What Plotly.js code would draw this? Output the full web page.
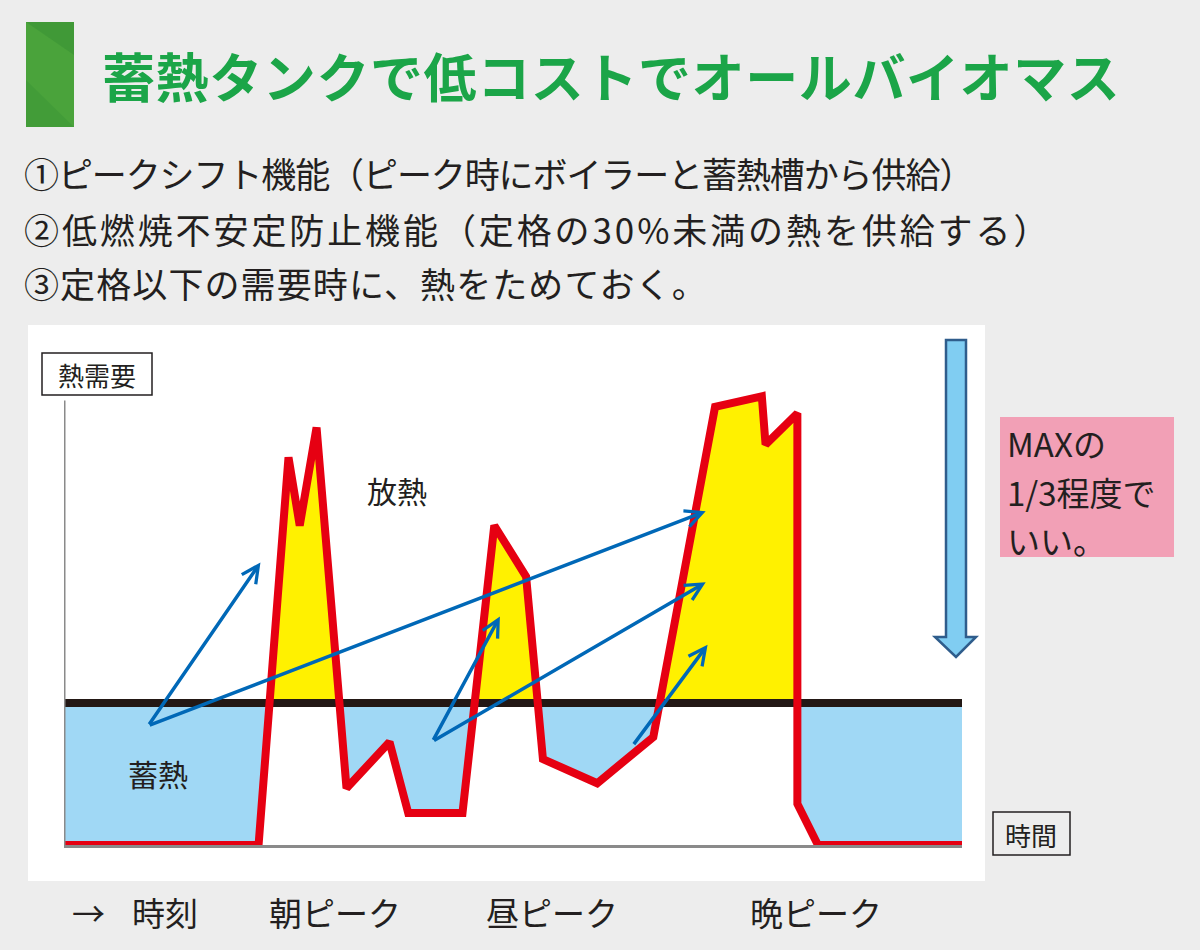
<!DOCTYPE html>
<html><head><meta charset="utf-8">
<script src="https://cdn.plot.ly/plotly-3.0.1.min.js"></script>
<style>html,body{margin:0;padding:0;background:#ededed;} #chart{width:1200px;height:950px;}</style>
</head><body><div id="chart"></div>
<script>
// ---------- data ----------
const titleText = '蓄熱タンクで低コストでオールバイオマス';
const noteLines = [
  '①ピークシフト機能（ピーク時にボイラーと蓄熱槽から供給）',
  '②低燃焼不安定防止機能（定格の30%未満の熱を供給する）',
  '③定格以下の需要時に、熱をためておく。'
];
// time of day (hours) and heat demand (rated output = 100)
const hours  = [0, 5.2, 6.0, 6.3, 6.75, 7.55, 8.7, 9.2, 10.65, 11.5, 12.35, 12.8, 14.25, 15.75, 17.4, 18.65, 18.75, 19.6, 19.6, 20.15, 24];
const demand = [0, 0,   273, 225, 294,  40,   72.5, 22.5, 22.5, 225,  189,   60.5, 43.5,  76,    308.5, 316,  282,   304,  29,   0,     0];
const rated = 100;
// storage -> release arrows (tail / head, in hours & demand units)
const arrowTailH = [2.25, 2.25, 9.85, 9.85, 15.2];
const arrowTailV = [84, 84, 73, 73, 70];
const arrowHeadH = [5.25, 17.15, 11.65, 17.15, 17.2];
const arrowHeadV = [199, 235, 161, 185, 141];
const areaLabels = ['放熱', '蓄熱'];
const areaLabelH = [8.9, 2.5];
const areaLabelV = [250, 51];
const timeLabels = ['→', '時刻', '朝ピーク', '昼ピーク', '晩ピーク'];
const timeLabelH = [0.65, 2.7, 7.25, 13.05, 20.1];
const yAxisLabel = '熱需要';
const xAxisLabel = '時間';
const noteBoxLines = ['MAXの', '1/3程度で', 'いい。'];

// ---------- layout helpers (page pixels -> paper) ----------
const W = 1200, H = 950;
const X = px => px / W;
const Y = py => 1 - py / H;
const FONT = 'Noto Sans CJK JP, sans-serif';
const DARK = '#231f20';
const spaced = (t, px) => `<span style="letter-spacing:${px}px">${t}</span>`;

// fills: split at crossings of the rated line
const fx = [], lo = [], hi = [];
for (let i = 0; i < hours.length; i++) {
  if (i > 0) {
    const d0 = demand[i - 1] - rated, d1 = demand[i] - rated;
    if (d0 * d1 < 0) {
      const t = d0 / (d0 - d1);
      fx.push(hours[i - 1] + t * (hours[i] - hours[i - 1]));
      lo.push(rated); hi.push(rated);
    }
  }
  fx.push(hours[i]);
  lo.push(Math.min(demand[i], rated));
  hi.push(Math.max(demand[i], rated));
}
const ratedArr = fx.map(() => rated);

const traces = [
  {x: fx, y: lo, mode: 'lines', line: {width: 0, color: 'rgba(0,0,0,0)'}, hoverinfo: 'skip', showlegend: false},
  {x: fx, y: ratedArr, mode: 'lines', fill: 'tonexty', fillcolor: '#a0d8f5', line: {width: 0, color: 'rgba(0,0,0,0)'}, hoverinfo: 'skip', showlegend: false},
  {x: fx, y: hi, mode: 'lines', fill: 'tonexty', fillcolor: '#fff100', line: {width: 0, color: 'rgba(0,0,0,0)'}, hoverinfo: 'skip', showlegend: false},
  {x: [hours[0], hours[hours.length - 1]], y: [rated, rated], mode: 'lines', line: {color: '#231815', width: 8}, hoverinfo: 'skip', showlegend: false},
  {x: hours, y: demand, mode: 'lines', line: {color: '#e60012', width: 8}, hoverinfo: 'skip', showlegend: false}
];

const shapes = [
  // white panel
  {type: 'rect', xref: 'paper', yref: 'paper', x0: X(28), x1: X(985), y0: Y(881), y1: Y(325), fillcolor: '#ffffff', line: {width: 0}, layer: 'below'},
  // green title bar
  {type: 'rect', xref: 'paper', yref: 'paper', x0: X(26), x1: X(74), y0: Y(127), y1: Y(22), fillcolor: '#4aa33b', line: {width: 0}, layer: 'below'},
  {type: 'path', xref: 'paper', yref: 'paper', path: `M ${X(26)},${Y(22)} L ${X(74)},${Y(22)} L ${X(74)},${Y(55)} Z`, fillcolor: 'rgba(20,110,40,0.18)', line: {width: 0}, layer: 'below'},
  {type: 'path', xref: 'paper', yref: 'paper', path: `M ${X(26)},${Y(127)} L ${X(74)},${Y(127)} L ${X(26)},${Y(80)} Z`, fillcolor: 'rgba(20,110,40,0.14)', line: {width: 0}, layer: 'below'},
  // vertical axis line
  {type: 'line', xref: 'x', yref: 'y', x0: 0, x1: 0, y0: 0, y1: 313, line: {color: '#8a8a8a', width: 3}, layer: 'above'},
  // axis label boxes
  {type: 'rect', xref: 'paper', yref: 'paper', x0: X(42), x1: X(152), y0: Y(395), y1: Y(353), fillcolor: '#ffffff', line: {color: DARK, width: 1.5}},
  {type: 'rect', xref: 'paper', yref: 'paper', x0: X(993), x1: X(1070), y0: Y(855), y1: Y(812), fillcolor: 'rgba(0,0,0,0)', line: {color: DARK, width: 1.5}},
  // big down arrow
  {type: 'path', xref: 'paper', yref: 'paper',
   path: `M ${X(946)},${Y(340)} L ${X(966)},${Y(340)} L ${X(966)},${Y(637)} L ${X(976)},${Y(637)} L ${X(956)},${Y(657)} L ${X(935)},${Y(637)} L ${X(946)},${Y(637)} Z`,
   fillcolor: '#80cdf2', line: {color: '#2f5d8c', width: 2.5}},
  // pink note box
  {type: 'rect', xref: 'paper', yref: 'paper', x0: X(1000), x1: X(1174), y0: Y(557), y1: Y(417), fillcolor: '#f2a0b6', line: {width: 0}, layer: 'below'}
];

const annotations = [];
// title
annotations.push({xref: 'paper', yref: 'paper', x: X(100), y: Y(75), xanchor: 'left', yanchor: 'middle', showarrow: false,
  text: spaced(titleText, 0.6), font: {family: FONT, size: 53, color: '#1ba548', weight: 'bold'}});
// note lines
const noteY = [172, 228, 283];
const noteSpacing = [-1.1, 2.9, 1.1];
noteLines.forEach((t, i) => annotations.push({xref: 'paper', yref: 'paper', x: X(22), y: Y(noteY[i]), xanchor: 'left', yanchor: 'middle', showarrow: false,
  text: spaced(t, noteSpacing[i]), font: {family: FONT, size: 35, color: DARK}}));
// axis labels
annotations.push({xref: 'paper', yref: 'paper', x: X(97), y: Y(374), xanchor: 'center', yanchor: 'middle', showarrow: false, text: yAxisLabel, font: {family: FONT, size: 26, color: DARK}});
annotations.push({xref: 'paper', yref: 'paper', x: X(1031), y: Y(834), xanchor: 'center', yanchor: 'middle', showarrow: false, text: xAxisLabel, font: {family: FONT, size: 26, color: DARK}});
// area labels
areaLabels.forEach((t, i) => annotations.push({xref: 'x', yref: 'y', x: areaLabelH[i], y: areaLabelV[i], xanchor: 'center', yanchor: 'middle', showarrow: false,
  text: t, font: {family: FONT, size: 30, color: DARK}}));
// arrows
arrowHeadH.forEach((h, i) => annotations.push({xref: 'x', yref: 'y', axref: 'x', ayref: 'y', x: h, y: arrowHeadV[i], ax: arrowTailH[i], ay: arrowTailV[i],
  text: '', showarrow: true, arrowhead: 5, arrowsize: 0.95, arrowwidth: 3.5, arrowcolor: '#0068b7'}));
// time labels below
timeLabels.forEach((t, i) => annotations.push({xref: 'x', yref: 'paper', x: timeLabelH[i], y: Y(912), xanchor: 'center', yanchor: 'middle', showarrow: false,
  text: t, font: {family: FONT, size: 33, color: DARK}}));
// note box text
const boxY = [443, 492, 540];
noteBoxLines.forEach((t, i) => annotations.push({xref: 'paper', yref: 'paper', x: X(1005), y: Y(boxY[i]), xanchor: 'left', yanchor: 'middle', showarrow: false,
  text: t, font: {family: FONT, size: 33, color: DARK}}));

const layout = {
  width: W, height: H,
  margin: {l: 0, r: 0, t: 0, b: 0},
  paper_bgcolor: '#ededed',
  plot_bgcolor: 'rgba(0,0,0,0)',
  showlegend: false,
  xaxis: {domain: [X(64), X(962)], range: [0, 24], showgrid: false, zeroline: false, showticklabels: false, ticks: '',
          showline: true, linecolor: '#8a8a8a', linewidth: 3, layer: 'below traces', fixedrange: true},
  yaxis: {domain: [Y(845), Y(348)], range: [0, 350], showgrid: false, zeroline: false, showticklabels: false, ticks: '',
          showline: false, fixedrange: true},
  shapes: shapes,
  annotations: annotations
};

Plotly.newPlot('chart', traces, layout, {displayModeBar: false, staticPlot: true});
</script>
</body></html>
